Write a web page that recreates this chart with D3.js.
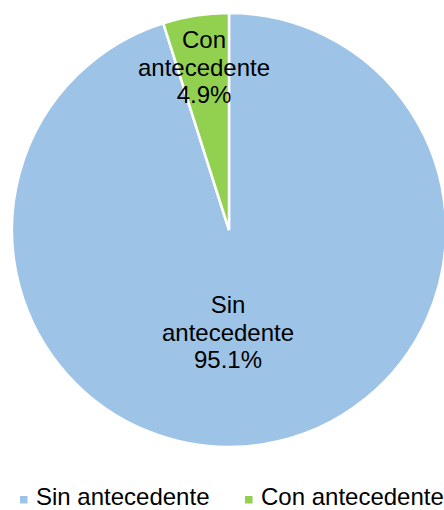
<!DOCTYPE html>
<html><head><meta charset="utf-8">
<script src="https://cdn.jsdelivr.net/npm/d3@7"></script>
<style>body{margin:0;background:#fff;}svg{display:block;font-family:"Liberation Sans",Arial,sans-serif;}</style>
</head><body>
<svg id="c" width="444" height="510"></svg>
<script>
const categories = ["Sin antecedente", "Con antecedente"];
const values = [95.1, 4.9];
const labels = ["95.1%", "4.9%"];
const colors = ["#9DC3E6", "#92D050"];

const svg = d3.select("#c");
const cx = 229, cy = 230, R = 217;
const pie = d3.pie().sort(null).value(d => d.v);
const data = pie(categories.map((c, i) => ({c, v: values[i], l: labels[i], col: colors[i]})));
const arc = d3.arc().innerRadius(0).outerRadius(R);
const g = svg.append("g").attr("transform", `translate(${cx},${cy})`);
g.selectAll("path").data(data).join("path")
  .attr("d", arc).attr("fill", d => d.data.col)
  .attr("stroke", "#fff").attr("stroke-width", 2.5).attr("stroke-linejoin", "miter");

const labelPos = [[-1, 83], [-25, -182]];
data.forEach((d, i) => {
  const words = d.data.c.split(" ");
  const lines = [words[0], words.slice(1).join(" "), d.data.l];
  const t = g.append("text").attr("text-anchor", "middle").attr("font-size", 24).attr("fill", "#000");
  lines.forEach((ln, j) => {
    t.append("tspan").attr("x", labelPos[i][0]).attr("y", labelPos[i][1] + j * 27.5).text(ln);
  });
});

// legend
const legX = [20, 245];
categories.forEach((c, i) => {
  svg.append("rect").attr("x", legX[i]).attr("y", 496).attr("width", 7.5).attr("height", 7.5).attr("fill", colors[i]);
  svg.append("text").attr("x", legX[i] + 16).attr("y", 504.5).attr("font-size", 24).attr("fill", "#000").text(c);
});
</script>
</body></html>
